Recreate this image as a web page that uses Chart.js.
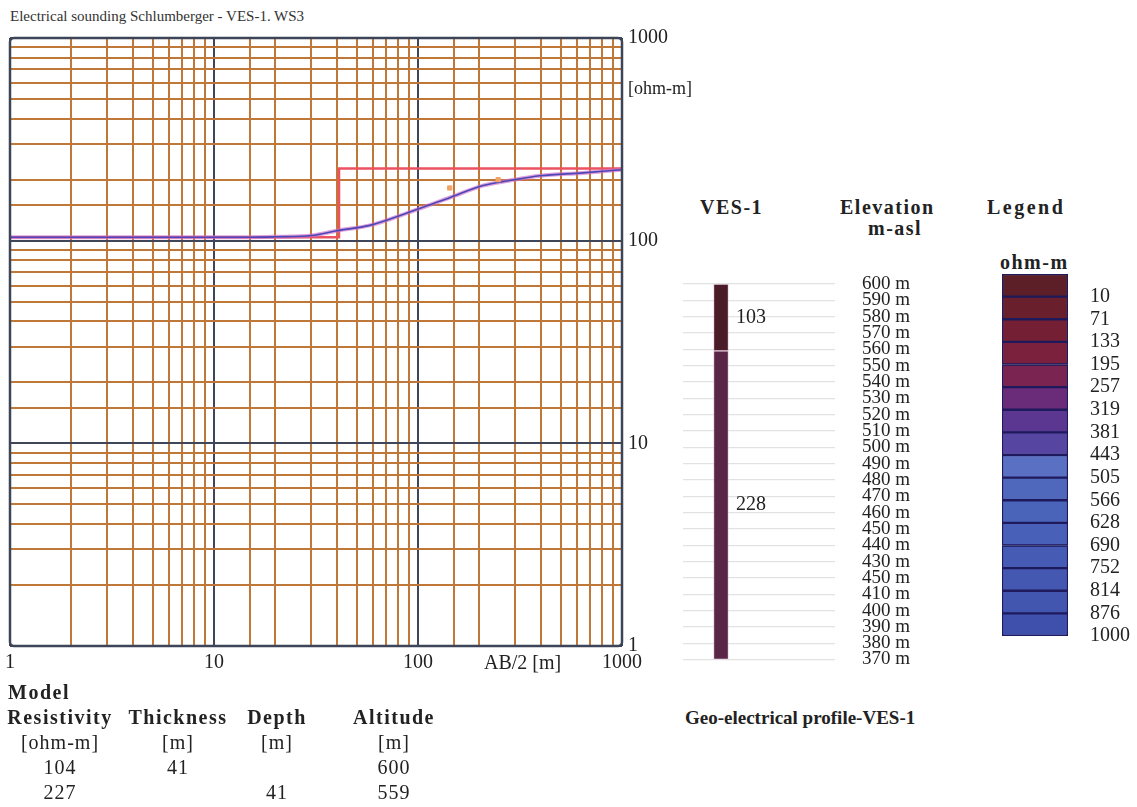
<!DOCTYPE html>
<html>
<head>
<meta charset="utf-8">
<script src="https://cdn.jsdelivr.net/npm/chart.js@4.4.1/dist/chart.umd.min.js"></script>
<style>
    body { margin: 0; background: #fff; font-family: "Liberation Serif", "Times New Roman", serif; color: #222; }
    #page { position: relative; width: 1137px; height: 807px; overflow: hidden; }
    .txt { position: absolute; white-space: nowrap; font-size: 18px; line-height: 22px; }
    .b { font-weight: bold; font-size: 20px; letter-spacing: 1.5px; }
    .col { position: absolute; width: 140px; text-align: center; font-size: 20px; line-height: 25px; letter-spacing: 1px; }
    canvas { position: absolute; }
</style>
</head>
<body>
<div id="page">
    <div class="txt" style="left:10px; top:5px; font-size:15px; color:#333;">Electrical sounding Schlumberger - VES-1. WS3</div>
    <canvas id="sounding" width="680" height="684" style="left:0; top:0;"></canvas>
    <div class="txt" style="left:628px; top:77px;">[ohm-m]</div>
    <div class="txt" style="left:484px; top:651px; font-size:20px;">AB/2 [m]</div>

    <div class="txt b" style="left:8px; top:681px;">Model</div>
    <div id="modelTable"></div>

    <div class="txt b" style="left:700px; top:196px;">VES-1</div>
    <div class="txt b" style="left:840px; top:196px;">Elevation</div>
    <div class="txt b" style="left:868px; top:217px;">m-asl</div>
    <div class="txt b" style="left:987px; top:196px; letter-spacing:2.5px;">Legend</div>
    <div class="txt b" style="left:1000px; top:251px;">ohm-m</div>
    <div class="txt b" style="left:685px; top:707px; font-size:19px; letter-spacing:0;">Geo-electrical profile-VES-1</div>

    <canvas id="profile" width="230" height="433" style="left:680px; top:250px;"></canvas>
    <canvas id="legendBar" width="147" height="420" style="left:990px; top:250px;"></canvas>
</div>
<script>
// sounding curve (AB/2 in m, apparent resistivity in ohm-m)
const abHalf = [1, 10, 15, 20, 30, 40, 58, 94, 143, 208, 282, 396, 644, 1000];
const apparentRho = [104, 104, 104, 104.5, 106, 112, 119, 140, 163, 187, 198, 209, 216, 224];
const fieldAB = [143, 247];
const fieldRho = [182, 200];

// layered model
const modelResistivity = [104, 227];
const modelThickness = [41];
const modelDepth = [41];
const modelAltitude = [600, 559];

const decadeTicks = [1, 10, 100, 1000];

// profile column
const layerResistivity = [103, 228];
const layerTop = [600, 559];
const layerBottom = [559, 370];
const elevationLabels = ['600 m', '590 m', '580 m', '570 m', '560 m', '550 m', '540 m', '530 m',
    '520 m', '510 m', '500 m', '490 m', '480 m', '470 m', '460 m', '450 m', '440 m', '430 m',
    '450 m', '410 m', '400 m', '390 m', '380 m', '370 m'];
const layerColors = ['#4a1c27', '#5a2646'];

// colour legend
const legendValues = ['10', '71', '133', '195', '257', '319', '381', '443', '505', '566', '628', '690', '752', '814', '876', '1000'];
const legendColors = ['#5c1f27', '#6a1f2d', '#741f34', '#7b213e', '#7a2452', '#6a2b78', '#5b3792', '#5646a2',
    '#5a70c2', '#5068bc', '#4a64ba', '#4860b8', '#465cb4', '#4458b2', '#4256b0', '#3e50ac'];

Chart.defaults.font.family = '"Liberation Serif", "Times New Roman", serif';
Chart.defaults.color = '#222';

const majorGrid = '#3e4658';
const minorGrid = '#c07838';

const framePlugin = {
    id: 'frame',
    afterDatasetsDraw(chart) {
        const { ctx, chartArea: a } = chart;
        ctx.save();
        ctx.strokeStyle = '#3c4658';
        ctx.lineWidth = 2.5;
        ctx.beginPath();
        if (ctx.roundRect) ctx.roundRect(a.left, a.top, a.right - a.left, a.bottom - a.top, 4);
        else ctx.rect(a.left, a.top, a.right - a.left, a.bottom - a.top);
        ctx.stroke();
        ctx.restore();
    }
};

// step line of the model from the layer table
const modelPts = [];
let from = decadeTicks[0];
modelResistivity.forEach((r, i) => {
    const to = i < modelDepth.length ? modelDepth[i] : decadeTicks[decadeTicks.length - 1];
    modelPts.push({ x: from, y: r }, { x: to, y: r });
    from = to;
});
const curvePts = abHalf.map((x, i) => ({ x: x, y: apparentRho[i] }));
const fieldPts = fieldAB.map((x, i) => ({ x: x, y: fieldRho[i] }));

new Chart(document.getElementById('sounding'), {
    type: 'scatter',
    data: {
        datasets: [
            { data: fieldPts, pointStyle: 'rect', pointRadius: 3, backgroundColor: '#f2a466', borderColor: '#f2a466' },
            { data: curvePts, showLine: true, borderColor: '#4c46b8', borderWidth: 1.6, pointRadius: 0, cubicInterpolationMode: 'monotone' },
            { data: curvePts, showLine: true, borderColor: 'rgba(205,110,200,0.65)', borderWidth: 4, pointRadius: 0, cubicInterpolationMode: 'monotone' },
            { data: modelPts, showLine: true, borderColor: '#ec5260', borderWidth: 2.5, pointRadius: 0 }
        ]
    },
    options: {
        responsive: false,
        animation: false,
        layout: { padding: { left: 10, top: 38, right: 0, bottom: 0 } },
        plugins: { legend: { display: false }, tooltip: { enabled: false } },
        scales: {
            x: {
                type: 'logarithmic',
                min: 1,
                max: 1000,
                afterFit: (s) => { s.height = 38; },
                border: { display: false },
                grid: {
                    drawTicks: false,
                    lineWidth: 2,
                    color: (c) => decadeTicks.includes(c.tick.value) ? majorGrid : minorGrid
                },
                ticks: {
                    autoSkip: false,
                    maxRotation: 0,
                    padding: 5,
                    font: { size: 20 },
                    callback: (v) => decadeTicks.includes(v) ? String(v) : ''
                }
            },
            y: {
                type: 'logarithmic',
                position: 'right',
                min: 1,
                max: 1000,
                afterFit: (s) => { s.width = 58; },
                border: { display: false },
                grid: {
                    drawTicks: false,
                    lineWidth: 2,
                    color: (c) => decadeTicks.includes(c.tick.value) ? majorGrid : minorGrid
                },
                ticks: {
                    autoSkip: false,
                    padding: 6,
                    font: { size: 20 },
                    callback: (v) => decadeTicks.includes(v) ? String(v) : ''
                }
            }
        }
    },
    plugins: [framePlugin]
});

const layerLabelPlugin = {
    id: 'layerLabels',
    afterDatasetsDraw(chart) {
        const ctx = chart.ctx;
        ctx.save();
        ctx.fillStyle = '#222';
        ctx.font = '20px "Liberation Serif", serif';
        ctx.textBaseline = 'middle';
        chart.data.datasets.forEach((ds, i) => {
            const bar = chart.getDatasetMeta(i).data[0];
            ctx.fillText(String(layerResistivity[i]), bar.x + 15, (bar.y + bar.base) / 2);
        });
        ctx.restore();
    }
};

new Chart(document.getElementById('profile'), {
    type: 'bar',
    data: {
        labels: ['VES-1', ''],
        datasets: layerResistivity.map((r, i) => ({
            data: [[layerBottom[i], layerTop[i]]],
            backgroundColor: layerColors[i],
            borderColor: 'rgba(230,190,220,0.6)',
            borderWidth: 1,
            borderSkipped: false,
            barThickness: 15,
            grouped: false
        }))
    },
    options: {
        responsive: false,
        animation: false,
        layout: { padding: { left: 3, top: 34, right: 0, bottom: 23 } },
        plugins: { legend: { display: false }, tooltip: { enabled: false } },
        scales: {
            x: { display: false },
            y: {
                position: 'right',
                min: 370,
                max: 600,
                afterFit: (s) => { s.width = 75; },
                border: { display: false },
                grid: { drawTicks: false, color: '#e2e2e2', lineWidth: 1.2 },
                ticks: {
                    stepSize: 10,
                    autoSkip: false,
                    padding: 14,
                    crossAlign: 'far',
                    font: { size: 19, lineHeight: 1 },
                    callback: (v, i, ticks) => elevationLabels[ticks.length - 1 - i]
                }
            }
        }
    },
    plugins: [layerLabelPlugin]
});

new Chart(document.getElementById('legendBar'), {
    type: 'bar',
    data: {
        labels: ['ohm-m'],
        datasets: legendColors.map((c) => ({
            data: [1],
            backgroundColor: c,
            borderColor: '#1e1a5c',
            borderWidth: 1.5,
            borderSkipped: false,
            barPercentage: 1,
            categoryPercentage: 1
        }))
    },
    options: {
        responsive: false,
        animation: false,
        layout: { padding: { left: 12, top: 21, right: 0, bottom: 34 } },
        plugins: { legend: { display: false }, tooltip: { enabled: false } },
        scales: {
            x: { display: false, stacked: true },
            y: {
                stacked: true,
                position: 'right',
                reverse: true,
                min: 0,
                max: legendValues.length,
                afterFit: (s) => { s.width = 69; },
                border: { display: false },
                grid: { display: false },
                ticks: {
                    stepSize: 1,
                    autoSkip: false,
                    padding: 14,
                    font: { size: 20, lineHeight: 1 },
                    callback: (v) => v >= 1 ? legendValues[v - 1] : ''
                }
            }
        }
    }
});

// model table under the sounding chart
const columns = [
    { center: 60, head: 'Resistivity', unit: '[ohm-m]', rows: [modelResistivity[0], modelResistivity[1]] },
    { center: 178, head: 'Thickness', unit: '[m]', rows: [modelThickness[0], ''] },
    { center: 277, head: 'Depth', unit: '[m]', rows: ['', modelDepth[0]] },
    { center: 394, head: 'Altitude', unit: '[m]', rows: [modelAltitude[0], modelAltitude[1]] }
];
const table = document.getElementById('modelTable');
columns.forEach((col) => {
    const d = document.createElement('div');
    d.className = 'col';
    d.style.left = (col.center - 70) + 'px';
    d.style.top = '705px';
    d.innerHTML = '<div class="b">' + col.head + '</div><div>' + col.unit + '</div>' +
        col.rows.map((r) => '<div>' + (r === '' ? '&nbsp;' : r) + '</div>').join('');
    table.appendChild(d);
});
</script>
</body>
</html>
